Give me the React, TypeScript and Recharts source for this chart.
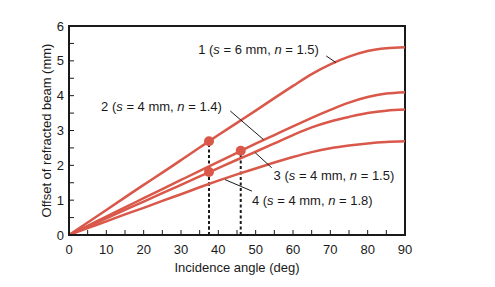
import {
  ComposedChart,
  Line,
  XAxis,
  YAxis,
  ReferenceArea,
  ReferenceLine,
  ReferenceDot,
} from "recharts";

const ANGLES = [0, 5, 10, 15, 20, 25, 30, 35, 40, 45, 50, 55, 60, 65, 70, 75, 80, 85, 90];
const OFFSET_1 = [0, 0.36, 0.72, 1.08, 1.44, 1.79, 2.15, 2.51, 2.87, 3.22, 3.57, 3.93, 4.28, 4.62, 4.9, 5.12, 5.28, 5.36, 5.39];
const OFFSET_2 = [0, 0.26, 0.53, 0.79, 1.06, 1.32, 1.58, 1.84, 2.1, 2.36, 2.62, 2.87, 3.12, 3.36, 3.59, 3.8, 3.96, 4.06, 4.1];
const OFFSET_3 = [0, 0.24, 0.48, 0.72, 0.96, 1.2, 1.44, 1.68, 1.92, 2.16, 2.39, 2.63, 2.87, 3.09, 3.26, 3.39, 3.5, 3.57, 3.6];
const OFFSET_4 = [0, 0.2, 0.39, 0.59, 0.78, 0.98, 1.17, 1.37, 1.56, 1.74, 1.91, 2.08, 2.24, 2.38, 2.49, 2.57, 2.63, 2.67, 2.69];

const X_TICKS = [0, 5, 10, 15, 20, 25, 30, 35, 40, 45, 50, 55, 60, 65, 70, 75, 80, 85, 90];
const Y_TICKS = [0, 0.5, 1, 1.5, 2, 2.5, 3, 3.5, 4, 4.5, 5, 5.5, 6];

// marked points: angle, offset
const MARK_ANGLES = [37.5, 37.5, 46];
const MARK_VALUES = [2.69, 1.81, 2.42];

const CURVES = [
  { key: "c1", values: OFFSET_1, id: "1", s: 6, n: 1.5 },
  { key: "c2", values: OFFSET_2, id: "2", s: 4, n: 1.4 },
  { key: "c3", values: OFFSET_3, id: "3", s: 4, n: 1.5 },
  { key: "c4", values: OFFSET_4, id: "4", s: 4, n: 1.8 },
];

// callout placement in data units (deg, mm)
const CALLOUTS = [
  { text: [5.33, 34.6], from: [68.9, 5.14], to: [71.5, 4.95] },
  { text: [3.7, 8.6], from: [43.2, 3.56], to: [52.1, 2.74] },
  { text: [1.71, 54.8], from: [49.9, 2.36], to: [54.3, 1.93] },
  { text: [0.99, 49.0], from: [41.8, 1.59], to: [49.0, 1.26] },
];

const RED = "#d9584a";
const FONT = "'Liberation Sans', Arial, sans-serif";
const INK = "#1a1a1a";

const data = ANGLES.map((a, i) => {
  const row: Record<string, number> = { angle: a };
  CURVES.forEach((c) => (row[c.key] = c.values[i]));
  return row;
});

function CalloutText(props: any) {
  const { cx, cy, curve } = props;
  return (
    <text x={cx} y={cy} dy="0.35em" fontSize={13} fontFamily={FONT} fill={INK} textAnchor="start">
      <tspan>{curve.id} (</tspan>
      <tspan fontStyle="italic">s</tspan>
      <tspan> = {curve.s} mm, </tspan>
      <tspan fontStyle="italic">n</tspan>
      <tspan> = {curve.n})</tspan>
    </text>
  );
}

export default function App() {
  return (
    <div style={{ position: "absolute", left: 0, top: 0, background: "#fff" }}>
      <ComposedChart width={495} height={287} data={data} margin={{ top: 26, right: 90, bottom: 0, left: 0 }}>
        <XAxis
          dataKey="angle"
          type="number"
          domain={[0, 90]}
          ticks={X_TICKS}
          tickFormatter={(v: number) => (v % 10 === 0 ? String(v) : "")}
          tickSize={-5}
          tickMargin={15}
          height={52}
          axisLine={{ stroke: INK, strokeWidth: 2 }}
          tickLine={{ stroke: INK, strokeWidth: 1 }}
          tick={{ fontSize: 13, fill: INK, fontFamily: FONT }}
          label={{
            value: "Incidence angle (deg)",
            position: "insideBottom",
            offset: 15,
            style: { fontSize: 13, fill: INK, fontFamily: FONT },
          }}
        />
        <YAxis
          type="number"
          domain={[0, 6]}
          ticks={Y_TICKS}
          tickFormatter={(v: number) => (Number.isInteger(v) ? String(v) : "")}
          tickSize={-5}
          tickMargin={10}
          width={69}
          axisLine={{ stroke: INK, strokeWidth: 2 }}
          tickLine={{ stroke: INK, strokeWidth: 1 }}
          tick={{ fontSize: 13, fill: INK, fontFamily: FONT }}
          label={{
            value: "Offset of refracted beam (mm)",
            angle: -90,
            position: "insideLeft",
            offset: 46,
            style: { fontSize: 13, fill: INK, fontFamily: FONT, textAnchor: "middle" },
          }}
        />
        <ReferenceArea x1={0} x2={90} y1={0} y2={6} fill="none" stroke={INK} strokeWidth={2} />
        {MARK_ANGLES.map((a, i) => (
          <ReferenceLine
            key={`drop-${i}`}
            segment={[
              { x: a, y: 0 },
              { x: a, y: MARK_VALUES[i] },
            ]}
            stroke={INK}
            strokeWidth={2}
            strokeDasharray="3 2.5"
          />
        ))}
        {CURVES.map((c) => (
          <Line
            key={c.key}
            type="monotone"
            dataKey={c.key}
            stroke={RED}
            strokeWidth={2.5}
            dot={false}
            activeDot={false}
            isAnimationActive={false}
          />
        ))}
        {MARK_ANGLES.map((a, i) => (
          <ReferenceDot key={`dot-${i}`} x={a} y={MARK_VALUES[i]} r={5} fill={RED} stroke="none" />
        ))}
        {CALLOUTS.map((c, i) => (
          <ReferenceLine
            key={`ptr-${i}`}
            segment={[
              { x: c.from[0], y: c.from[1] },
              { x: c.to[0], y: c.to[1] },
            ]}
            stroke={INK}
            strokeWidth={1}
          />
        ))}
        {CALLOUTS.map((c, i) => (
          <ReferenceDot
            key={`lbl-${i}`}
            x={c.text[1]}
            y={c.text[0]}
            r={0}
            shape={(p: any) => <CalloutText {...p} curve={CURVES[i]} />}
          />
        ))}
      </ComposedChart>
    </div>
  );
}
